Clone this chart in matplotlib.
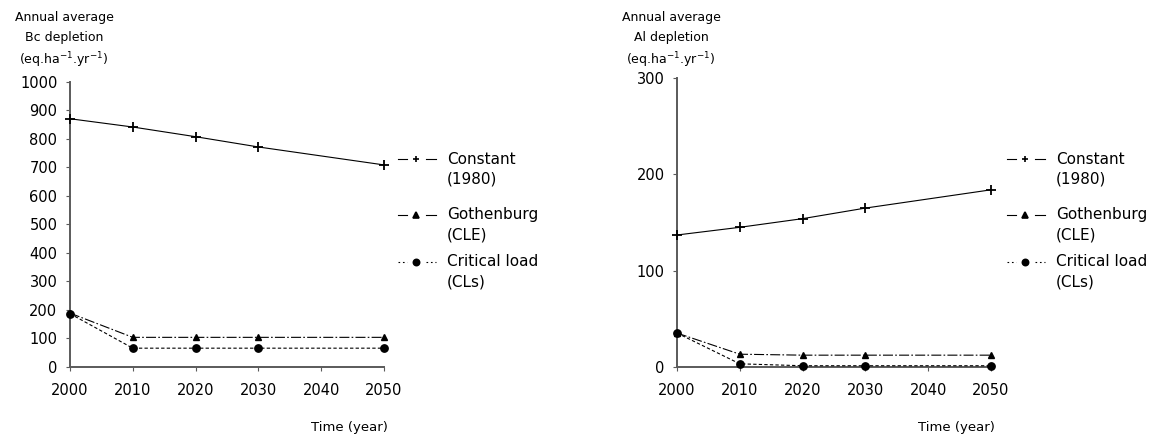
import matplotlib.pyplot as plt
from matplotlib.lines import Line2D

plt.rcParams['font.family'] = ['DejaVu Sans']

years = [2000, 2010, 2020, 2030, 2050]

# Bc depletion (eq/ha/yr)
bc_constant = [870, 841, 807, 771, 708]
bc_gothenburg = [188, 103, 103, 103, 103]
bc_critical = [186, 65, 65, 65, 65]

# Al depletion (eq/ha/yr)
al_constant = [137, 145, 154, 165, 184]
al_gothenburg = [35, 13, 12, 12, 12]
al_critical = [35, 3, 1, 1, 1]

series_labels = [('Constant', '(1980)'), ('Gothenburg', '(CLE)'),
                 ('Critical load', '(CLs)')]

W, H = 1162, 438
fig = plt.figure(figsize=(W / 100, H / 100), dpi=100)


def fx(px):
    return px / W


def fy(py):
    return 1 - py / H


ax1 = fig.add_axes([fx(70), fy(366.7), fx(314), fy(81.7) - fy(366.7)])
ax2 = fig.add_axes([fx(677), fy(366.7), fx(314), fy(78.3) - fy(366.7)])

GOTH_LS = (0, (9, 2, 1.5, 2))
CRIT_LS = (0, (3, 2))


def legend_entry(cx, ty, marker, ms, seg_ls, label):
    # short segment / marker / short segment, level with the first text line
    for a, b in [(cx - 18, cx - 9), (cx + 10, cx + 20)]:
        fig.add_artist(Line2D([fx(a), fx(b)], [fy(ty), fy(ty)], color='black',
                              lw=0.8, ls=seg_ls, transform=fig.transFigure))
    fig.add_artist(Line2D([fx(cx)], [fy(ty)], color='black', marker=marker,
                          ms=ms, mew=1.2, transform=fig.transFigure))
    fig.text(fx(cx + 31), fy(ty), label[0], ha='left', va='center',
             fontsize=11)
    fig.text(fx(cx + 31), fy(ty + 20), label[1], ha='left', va='center',
             fontsize=11)


def draw(ax, const, goth, crit, ymax, ystep, ylabel_top, leg_x):
    ax.plot(years, const, color='black', lw=0.8, marker='+', ms=6.5, mew=1.3,
            zorder=3, clip_on=False)
    ax.plot(years, goth, color='black', lw=0.8, ls=GOTH_LS,
            marker='^', ms=5, zorder=3, clip_on=False)
    ax.plot(years, crit, color='black', lw=0.8, ls=CRIT_LS,
            marker='o', ms=5.3, zorder=3, clip_on=False)
    ax.set_xlim(2000, 2050)
    ax.set_ylim(0, ymax)
    ax.set_xticks(range(2000, 2051, 10))
    ax.set_yticks(range(0, ymax + 1, ystep))
    for s in ['top', 'right']:
        ax.spines[s].set_visible(False)
    for s in ['left', 'bottom']:
        ax.spines[s].set_color('#5a5a5a')
        ax.spines[s].set_linewidth(1.4)
    ax.tick_params(axis='x', direction='out', length=3, width=0.8,
                   color='#5a5a5a', pad=9, labelsize=10.5)
    ax.tick_params(axis='y', direction='out', length=3, width=0.8,
                   color='#5a5a5a', pad=6, labelsize=10.5)

    ax_px = ax.get_position().x0 * W
    cx = ax_px - 6
    fig.text(fx(cx), fy(17), 'Annual average', ha='center', va='center',
             fontsize=9)
    fig.text(fx(cx), fy(37), ylabel_top, ha='center', va='center',
             fontsize=9)
    fig.text(fx(cx), fy(60), r'(eq.ha$^{\mathregular{-1}}$.yr$^{\mathregular{-1}}$)',
             ha='center', va='center', fontsize=9)
    right_px = ax.get_position().x1 * W
    fig.text(fx(right_px + 4), fy(428), 'Time (year)', ha='right',
             va='center', fontsize=9.5)

    legend_entry(leg_x, 159, '+', 5, '-', series_labels[0])
    legend_entry(leg_x, 215, '^', 4, '-', series_labels[1])
    legend_entry(leg_x, 262, 'o', 4.5, (0, (1.5, 2.5)), series_labels[2])


draw(ax1, bc_constant, bc_gothenburg, bc_critical, 1000, 100,
     'Bc depletion', 416)
draw(ax2, al_constant, al_gothenburg, al_critical, 300, 100,
     'Al depletion', 1025)

fig.savefig('out.png', dpi=100)
